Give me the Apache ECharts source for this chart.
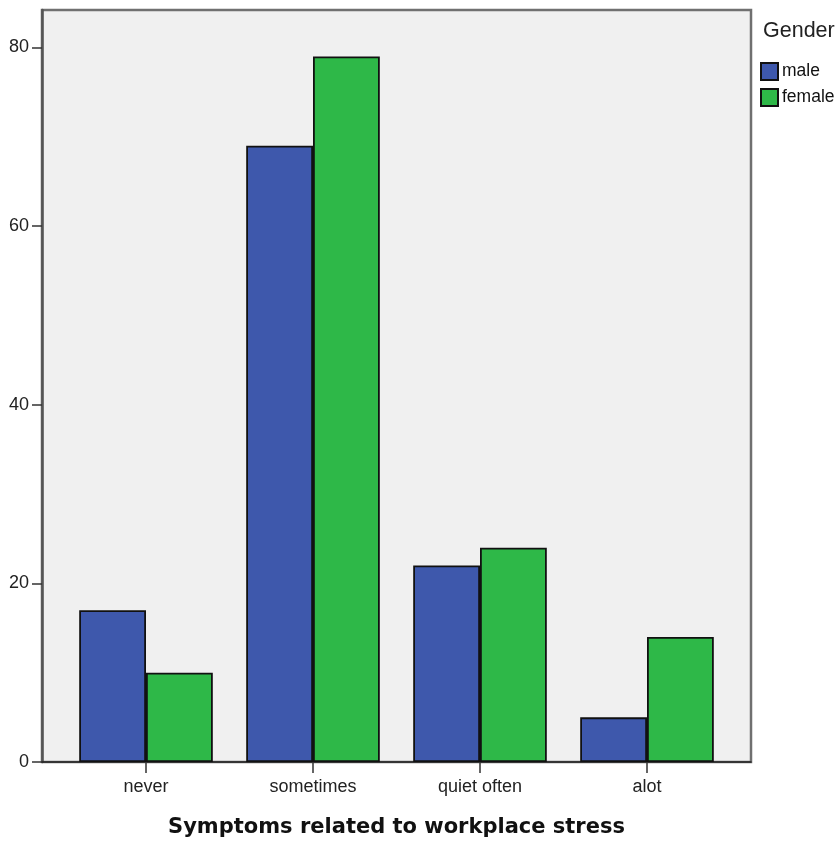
<!DOCTYPE html>
<html><head><meta charset="utf-8">
<script src="https://cdn.jsdelivr.net/npm/echarts@6/dist/echarts.min.js"></script>
<style>html,body{margin:0;padding:0;background:#fff}#c{width:840px;height:842px}</style>
</head><body><div id="c"></div>
<script>
var categories = ['never', 'sometimes', 'quiet often', 'alot'];
var maleValues = [17, 69, 22, 5];
var femaleValues = [10, 79, 24, 14];
var yTicks = [0, 20, 40, 60, 80];
var seriesNames = ['male', 'female'];
var legendTitle = 'Gender';
var xTitle = 'Symptoms related to workplace stress';

var chart = echarts.init(document.getElementById('c'), null, {renderer: 'canvas'});
var F = 'Liberation Sans, Arial, sans-serif';
chart.setOption({
  animation: false,
  backgroundColor: '#ffffff',
  graphic: [
    {type: 'text', left: 763, top: 20, style: {text: legendTitle, font: '21.5px ' + F, fill: '#222'}}
  ],
  legend: {
    orient: 'vertical', left: 755, top: 57, icon: 'rect', itemWidth: 17, itemHeight: 17, itemGap: 7,
    textStyle: {fontFamily: F, fontSize: 17.5, color: '#111', padding: [0, 0, 0, -1]},
    data: seriesNames
  },
  grid: [
    {left: 42, top: 10, width: 709, height: 752, show: true, backgroundColor: '#f0f0f0', borderColor: '#707070', borderWidth: 2.5, outerBoundsMode: 'none'},
    {left: 62.5, top: 10, width: 668, height: 752, outerBoundsMode: 'none'}
  ],
  xAxis: [
    {gridIndex: 0, type: 'value', min: 0, max: 1, axisLine: {show: true, lineStyle: {color: '#222', width: 1.5}}, axisTick: {show: false}, axisLabel: {show: false}, splitLine: {show: false}},
    {gridIndex: 1, type: 'category', data: categories, axisLine: {show: false},
     axisTick: {show: true, alignWithLabel: true, length: 11, lineStyle: {color: '#333', width: 1.5}},
     axisLabel: {fontFamily: F, fontSize: 18, color: '#222', margin: 16},
     name: xTitle, nameLocation: 'middle', nameGap: 55,
     nameTextStyle: {fontFamily: 'DejaVu Sans', fontWeight: 'bold', fontSize: 21, color: '#111'}}
  ],
  yAxis: [
    {gridIndex: 0, type: 'value', min: 0, max: 1, axisLine: {show: true, lineStyle: {color: '#555', width: 2.5}}, axisTick: {show: false}, axisLabel: {show: false}, splitLine: {show: false}},
    {gridIndex: 1, type: 'value', min: 0, max: 84.2, interval: 20, offset: 20.5,
     axisLine: {show: false},
     axisTick: {show: true, length: 10, customValues: yTicks, lineStyle: {color: '#333', width: 1.5}},
     axisLabel: {fontFamily: F, fontSize: 18, color: '#222', margin: 13, customValues: yTicks},
     splitLine: {show: false}}
  ],
  series: [
    {name: seriesNames[0], type: 'bar', xAxisIndex: 1, yAxisIndex: 1, data: maleValues, barGap: '0%', barCategoryGap: '20%',
     itemStyle: {color: '#3e58ac', borderColor: '#111', borderWidth: 1.8}},
    {name: seriesNames[1], type: 'bar', xAxisIndex: 1, yAxisIndex: 1, data: femaleValues, barGap: '0%', barCategoryGap: '20%',
     itemStyle: {color: '#2eb848', borderColor: '#111', borderWidth: 1.8}}
  ]
});
</script></body></html>
